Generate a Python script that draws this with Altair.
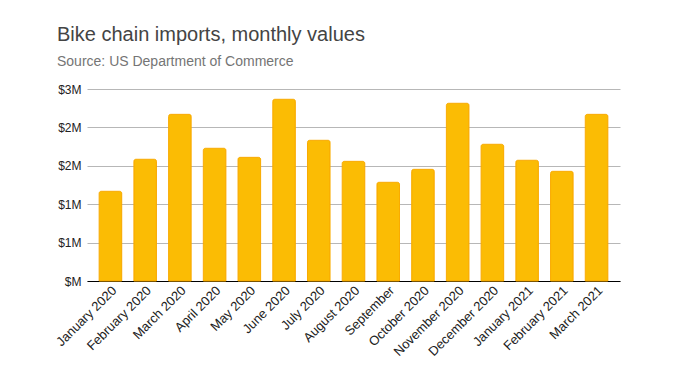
import altair as alt
import pandas as pd

months = ["January 2020", "February 2020", "March 2020", "April 2020", "May 2020",
          "June 2020", "July 2020", "August 2020", "September", "October 2020",
          "November 2020", "December 2020", "January 2021", "February 2021", "March 2021"]
values = [1168000, 1585000, 2170000, 1728000, 1610000, 2366000, 1832000, 1558000,
          1285000, 1454000, 2314000, 1780000, 1572000, 1428000, 2170000]

df = pd.DataFrame({"month": months, "value": values})

font = "Liberation Sans"

chart = alt.Chart(df).mark_bar(
    color="#FBBC04", stroke="#F9AB00", strokeWidth=1,
    cornerRadiusTopLeft=2, cornerRadiusTopRight=2
).encode(
    x=alt.X("month:N", sort=months, title=None,
            scale=alt.Scale(paddingInner=0.35, paddingOuter=0.35),
            axis=alt.Axis(labelAngle=-45, labelAlign="right", labelBaseline="middle",
                          labelFont=font, labelFontSize=13, labelColor="#222222",
                          ticks=False, domain=True, domainColor="#000000",
                          labelPadding=7, labelOffset=4, labelLimit=200)),
    y=alt.Y("value:Q", title=None,
            scale=alt.Scale(domain=[0, 2500000], nice=False),
            axis=alt.Axis(values=[0, 500000, 1000000, 1500000, 2000000, 2500000],
                          labelExpr="'$' + (datum.value == 0 ? '' : format(datum.value/1000000, '.0f')) + 'M'",
                          labelFont=font, labelFontSize=12, labelColor="#222222",
                          ticks=False, domain=False, grid=True, gridColor="#b7b7b7",
                          labelPadding=6)),
).properties(
    width=533, height=192,
    title=alt.TitleParams(
        text="Bike chain imports, monthly values",
        subtitle="Source: US Department of Commerce",
        anchor="start", frame="group", dx=-30,
        font=font, fontSize=20, fontWeight="normal", color="#444444",
        subtitleFont=font, subtitleFontSize=14, subtitleColor="#757575",
        subtitlePadding=10, offset=14,
    ),
    autosize=alt.AutoSizeParams(type="none"),
    padding={"left": 79, "top": 81, "right": 40, "bottom": 90},
).configure_view(stroke=None)

chart.save("out.html", embed_options={"renderer": "svg", "actions": False})
